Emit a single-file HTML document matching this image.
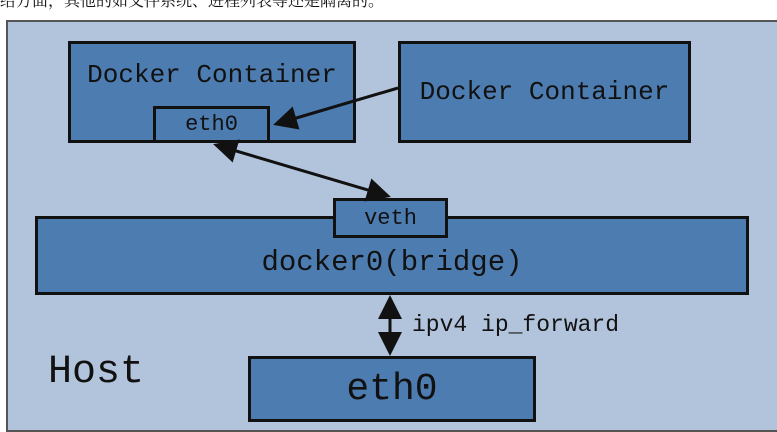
<!DOCTYPE html>
<html><head><meta charset="utf-8"><style>
body{margin:0;width:777px;height:428px;overflow:hidden;background:#fff;position:relative;font-family:"Liberation Mono",monospace;}
.t{position:absolute;left:0;top:-12px;font:16px "Liberation Serif","Noto Serif CJK SC",serif;color:#111;white-space:nowrap}
.host{position:absolute;left:6px;top:20px;width:775px;height:412px;background:#b2c4dc;border:2px solid #555;box-sizing:border-box}
.b{position:absolute;background:#4d7cb0;border:3px solid #111;box-sizing:border-box;color:#111;display:flex;align-items:center;justify-content:center;white-space:nowrap}
.l{position:absolute;color:#111;white-space:nowrap}
</style></head><body>
<div class="t">给方面，其他的如文件系统、进程列表等还是隔离的。</div>
<div class="host"></div>
<div class="b" style="left:68px;top:41px;width:288px;height:102px;align-items:flex-start;padding-top:16px;font-size:26px">Docker Container</div>
<div class="b" style="left:398px;top:41px;width:293px;height:102px;font-size:26px">Docker Container</div>
<div class="b" style="left:153px;top:106px;width:117px;height:37px;font-size:22px">eth0</div>
<div class="b" style="left:35px;top:216px;width:714px;height:79px;font-size:29px;padding-top:14px">docker0(bridge)</div>
<div class="b" style="left:333px;top:198px;width:115px;height:40px;font-size:22px">veth</div>
<div class="b" style="left:248px;top:356px;width:288px;height:66px;font-size:38px">eth0</div>
<div class="l" style="left:412px;top:312px;font-size:23px">ipv4 ip_forward</div>
<div class="l" style="left:48px;top:350px;font-size:40px">Host</div>
<svg width="777" height="428" style="position:absolute;left:0;top:0">
<defs><marker id="a" markerWidth="8" markerHeight="8" refX="7" refY="4" orient="auto-start-reverse" markerUnits="strokeWidth"><path d="M0,0L8,4L0,8z" fill="#111"/></marker></defs>
<g stroke="#111" stroke-width="3" fill="none">
<line x1="398" y1="88" x2="276" y2="124" marker-end="url(#a)"/>
<line x1="216" y1="145" x2="388" y2="196" marker-start="url(#a)" marker-end="url(#a)"/>
<line x1="390" y1="298" x2="390" y2="353" marker-start="url(#a)" marker-end="url(#a)"/>
</g></svg>
</body></html>
